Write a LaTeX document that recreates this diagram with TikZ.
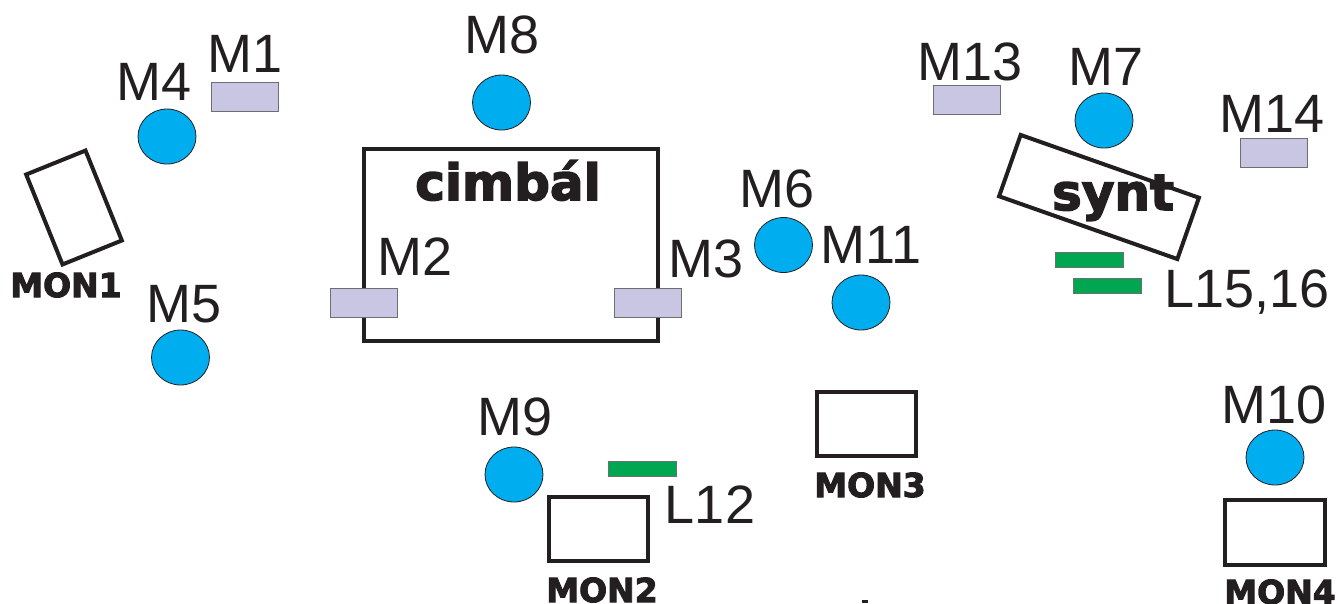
\documentclass[tikz,border=0pt]{standalone}
\usepackage{fontspec}
\setmainfont{Liberation Sans}
\newfontfamily\heavy{DejaVu Sans Bold}[FakeBold=3]
\usetikzlibrary{shapes.geometric}
\definecolor{ink}{HTML}{231F20}
\definecolor{micblue}{HTML}{00AEEF}
\definecolor{lav}{HTML}{C8C6E2}
\definecolor{lavedge}{HTML}{6D6E71}
\definecolor{grn}{HTML}{00A650}
\tikzset{
  lbl/.style={anchor=base, inner sep=0pt, text=ink, font=\fontsize{54}{60}\selectfont},
  monlbl/.style={anchor=base, inner sep=0pt, text=ink, font=\heavy\fontsize{33}{36}\selectfont},
  biglbl/.style={anchor=base, inner sep=0pt, text=ink, font=\heavy\fontsize{50}{56}\selectfont},
  mic/.style={ellipse, draw=ink, line width=0.8pt, fill=micblue, minimum width=58pt, minimum height=55pt, inner sep=0pt},
  flat/.style={rectangle, draw=lavedge, line width=1pt, fill=lav, minimum width=67pt, minimum height=29pt, inner sep=0pt},
  lamp/.style={rectangle, draw=lavedge, line width=0.6pt, fill=grn, minimum width=68pt, minimum height=15pt, inner sep=0pt},
  boxed/.style={rectangle, draw=ink, line width=4pt, inner sep=0pt},
}
\begin{document}
\begin{tikzpicture}[x=1pt, y=-1pt]
\useasboundingbox (0,0) rectangle (1341,603);
% big boxes
\node[boxed, line width=4.5pt, minimum width=294pt, minimum height=192pt] (cimbox) at (511,245) {};
\node[boxed, minimum width=64pt, minimum height=97pt, rotate=22] (mon1) at (74,207.5) {};
\node[boxed, minimum width=189pt, minimum height=65pt, rotate=-19.4] (syntbox) at (1099,197) {};
\node[boxed, minimum width=99pt, minimum height=64pt] (mon2) at (598.5,529) {};
\node[boxed, minimum width=99pt, minimum height=64pt] (mon3) at (866.5,424) {};
\node[boxed, minimum width=100pt, minimum height=65pt] (mon4) at (1275,532.5) {};
% flat mics
\node[flat] (m1) at (244.5,96.5) {};
\node[flat] (m2) at (364,303) {};
\node[flat] (m3) at (647.5,303) {};
\node[flat] (m13) at (967,100) {};
\node[flat] (m14) at (1274,153) {};
% green
\node[lamp] (l12) at (642,468.5) {};
\node[lamp] (l15) at (1089,259.5) {};
\node[lamp] (l16) at (1107.5,285.5) {};
% round mics
\node[mic] (m4) at (167,136.5) {};
\node[mic] (m5) at (180.5,357.5) {};
\node[mic] (m8) at (501.5,102.5) {};
\node[mic] (m6) at (783.5,245) {};
\node[mic] (m11) at (861,302.5) {};
\node[mic] (m9) at (514,474.5) {};
\node[mic] (m7) at (1104,120.5) {};
\node[mic] (m10) at (1275,457.5) {};
% labels
\node[lbl] (tm1) at (245,72) {M1};
\node[lbl] (tm4) at (154,100) {M4};
\node[lbl] (tm5) at (184,322) {M5};
\node[lbl] (tm8) at (502,53) {M8};
\node[lbl] (tm2) at (415,275) {M2};
\node[lbl] (tm3) at (706,277) {M3};
\node[lbl] (tm6) at (777,207) {M6};
\node[lbl] (tm11) at (871,263) {M11};
\node[lbl] (tm9) at (515,435) {M9};
\node[lbl] (tl12) at (710,523) {L12};
\node[lbl] (tm13) at (970,80) {M13};
\node[lbl] (tm7) at (1106,85) {M7};
\node[lbl] (tm14) at (1272,132) {M14};
\node[lbl] (tl15) at (1247,307) {L15,16};
\node[lbl] (tm10) at (1274,423) {M10};
\node[monlbl] (tmon1) at (66,297) {MON1};
\node[monlbl] (tmon2) at (602,602) {MON2};
\node[monlbl] (tmon3) at (870,497) {MON3};
\node[monlbl] (tmon4) at (1280,604) {MON4};
\node[biglbl] (tcim) at (508,200) {cimbál};
\node[biglbl] (tsynt) at (1113,210) {synt};
\node[rectangle, fill=ink, minimum width=6pt, minimum height=3pt, inner sep=0pt] (dot) at (865,601.5) {};
\end{tikzpicture}
\end{document}
